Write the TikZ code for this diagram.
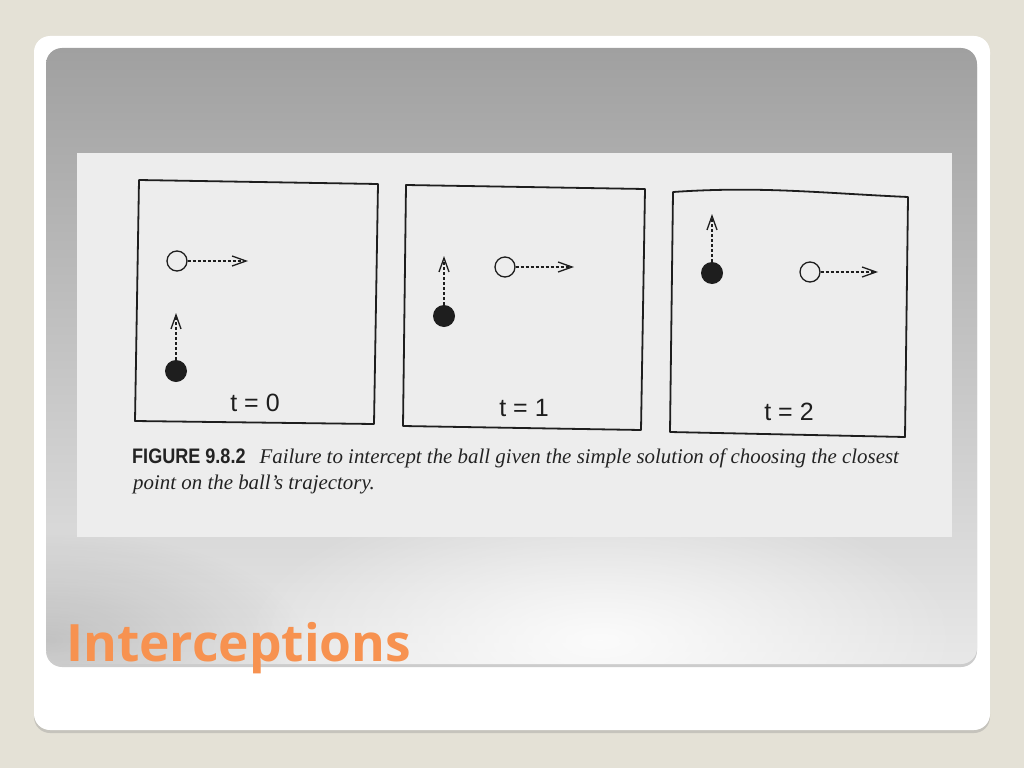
\documentclass[tikz,border=0pt]{standalone}
\usepackage{fontspec}
\setmainfont{Liberation Serif}
\newfontfamily\titlefont{Open Sans}
\newfontfamily\labelfont{Liberation Sans}
\newfontfamily\figfont[FakeStretch=0.86]{Liberation Sans}
\usetikzlibrary{arrows.meta,shadows,fadings}
\tikzfading[name=glowfade, inner color=transparent!0, outer color=transparent!100]
\definecolor{bg}{RGB}{228,225,214}
\definecolor{panelTop}{RGB}{160,160,160}
\definecolor{panelBot}{RGB}{232,232,232}
\definecolor{scan}{RGB}{237,237,237}
\definecolor{ink}{RGB}{30,30,30}
\definecolor{capink}{RGB}{35,35,35}
\definecolor{titleorange}{RGB}{247,146,80}
\tikzset{
  frame/.style={draw=ink, line width=1.8pt, line join=round},
  hollow/.style={circle, draw=ink, line width=1.3pt, fill=scan, minimum size=20pt, inner sep=0pt},
  filledball/.style={circle, fill=ink, minimum size=22pt, inner sep=0pt},
  motion/.style={draw=ink, line width=1.3pt, dash pattern=on 3pt off 2pt, -{Straight Barb[length=14pt,width=10pt,line width=1.3pt]}},
  tlabel/.style={font=\labelfont\fontsize{25}{25}\selectfont, text=ink, inner sep=0pt, anchor=base},
  caption/.style={anchor=base west, inner sep=0pt, text=capink},
}
\begin{document}
\begin{tikzpicture}[x=1pt, y=-1pt]
\useasboundingbox (0,0) rectangle (1024,768);
% background
\fill[bg] (0,0) rectangle (1024,768);
% white card
\path[fill=white, rounded corners=16pt, drop shadow={shadow xshift=0pt, shadow yshift=-3pt, opacity=0.3}] (34,36) rectangle (990,730);
% gray panel
\path[rounded corners=16pt, top color=panelTop, bottom color=panelBot, drop shadow={shadow xshift=0pt, shadow yshift=-3pt, opacity=0.4}] (46,48) rectangle (977,664);
\begin{scope}
  \clip[rounded corners=16pt] (46,48) rectangle (977,664);
  \fill[white, opacity=0.85, path fading=glowfade] (600,640) ellipse [x radius=360pt, y radius=150pt];
  \fill[black, opacity=0.15, path fading=glowfade] (46,640) ellipse [x radius=260pt, y radius=110pt];
\end{scope}
% scanned figure background
\fill[scan] (77,153) rectangle (952,537);
% frames
\draw[frame] (139,180) -- (378,184) -- (374,424) -- (135,421) -- cycle;
\draw[frame] (406,185) -- (645,189) -- (641,430) -- (403,426) -- cycle;
\draw[frame] (673,192) .. controls (760,186) and (820,193) .. (908,197) -- (905,437) -- (670,432) -- cycle;
% t = 0
\node[hollow] (h0) at (177,261) {};
\coordinate (h0e) at (248,261);
\draw[motion] (h0) -- (h0e);
\node[filledball] (f0) at (176,371) {};
\coordinate (f0e) at (176,313);
\draw[motion] (f0) -- (f0e);
\node[tlabel] (t0) at (255,411) {t = 0};
% t = 1
\node[hollow] (h1) at (505,267) {};
\coordinate (h1e) at (574,267);
\draw[motion] (h1) -- (h1e);
\node[filledball] (f1) at (444,316) {};
\coordinate (f1e) at (444,256);
\draw[motion] (f1) -- (f1e);
\node[tlabel] (t1) at (524,416) {t = 1};
% t = 2
\node[hollow] (h2) at (810,272) {};
\coordinate (h2e) at (878,272);
\draw[motion] (h2) -- (h2e);
\node[filledball] (f2) at (712,273) {};
\coordinate (f2e) at (712,214);
\draw[motion] (f2) -- (f2e);
\node[tlabel] (t2) at (789,420) {t = 2};
% caption
\node[caption] (cap1) at (132,463) {{\figfont\bfseries\fontsize{21}{21}\selectfont FIGURE 9.8.2}\hspace{14pt}{\itshape\fontsize{20.9}{21}\selectfont Failure to intercept the ball given the simple solution of choosing the closest}};
\node[caption] (cap2) at (133,489) {\itshape\fontsize{20.9}{21}\selectfont point on the ball’s trajectory.};
% title
\node[anchor=base west, inner sep=0pt, text=titleorange, font=\titlefont\bfseries\fontsize{51.5}{52}\selectfont] (title) at (66,661) {Interceptions};
\end{tikzpicture}
\end{document}
